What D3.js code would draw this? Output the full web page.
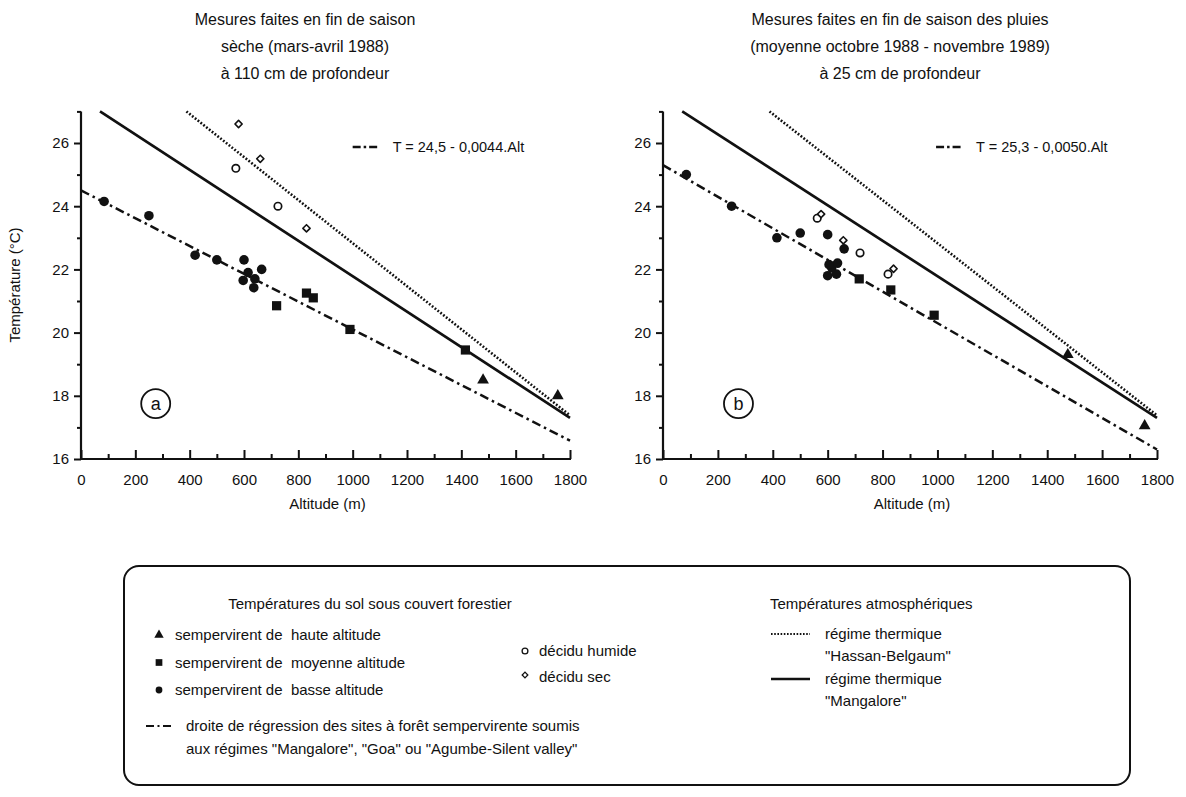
<!DOCTYPE html>
<html>
<head>
<meta charset="utf-8">
<script src="https://cdn.jsdelivr.net/npm/d3@7"></script>
<style>
  body { margin: 0; background: #fff; }
  svg text { font-family: "Liberation Sans", Arial, sans-serif; fill: #111; white-space: pre; }
</style>
</head>
<body>
<div id="canvas"></div>
<script>
// Canvas
var w = 1186, h = 797;

// ---- data ----
// (altitude m, temperature °C)
var highA = [[1480, 18.5], [1755, 18.0]];
var midA = [[720, 20.85], [830, 21.25], [855, 21.1], [990, 20.1], [1415, 19.45]];
var lowA = [[85, 24.15], [250, 23.7], [420, 22.45], [500, 22.3], [600, 22.3], [615, 21.9],
            [665, 22.0], [597, 21.65], [640, 21.7], [636, 21.42]];
var humidA = [[570, 25.2], [725, 24.0]];
var dryA = [[580, 26.6], [660, 25.5], [830, 23.3]];

var highB = [[1475, 19.3], [1755, 17.05]];
var midB = [[715, 21.7], [830, 21.35], [988, 20.55]];
var lowB = [[85, 25.0], [250, 24.0], [415, 23.0], [500, 23.15], [600, 23.1], [660, 22.65],
            [600, 21.8], [632, 21.85], [615, 22.05], [636, 22.2], [605, 22.15]];
var humidB = [[562, 23.62], [718, 22.52], [820, 21.85]];
var dryB = [[576, 23.75], [657, 22.92], [840, 22.02]];

// line end points
var regressA = [[0, 24.5], [1800, 16.58]];
var regressB = [[0, 25.3], [1800, 16.3]];
var mangalore = [[70, 27.0], [1800, 17.3]];
var hassan = [[388, 27.0], [1800, 17.38]];

var xTicks = [0, 200, 400, 600, 800, 1000, 1200, 1400, 1600, 1800];
var xMinor = [100, 300, 500, 700, 900, 1100, 1300, 1500, 1700];
var yTicks = [16, 18, 20, 22, 24, 26];
var yMinor = [17, 19, 21, 23, 25, 27];

var titleA = ["Mesures faites en fin de saison", "sèche (mars-avril 1988)", "à 110 cm de profondeur"];
var titleB = ["Mesures faites en fin de saison des pluies", "(moyenne octobre 1988 - novembre 1989)", "à 25 cm de profondeur"];
var eqA = "T = 24,5 - 0,0044.Alt";
var eqB = "T = 25,3 - 0,0050.Alt";

var svg = d3.select("#canvas").append("svg")
    .attr("width", w)
    .attr("height", h)
    .style("background-color", "white");

var dashDot = "9,4,2.5,4";
var dotted = "1.8,1.8";

function symbolPath(type, size) {
    return d3.symbol().type(type).size(size)();
}

function drawPanel(p) {
    var x = d3.scaleLinear().domain([0, 1800]).range([p.left, p.right]);
    var y = d3.scaleLinear().domain([16, 27]).range([459, 111.4]);
    var g = svg.append("g");

    // y axis
    g.append("g")
        .attr("transform", `translate(${p.left},0)`)
        .call(d3.axisLeft(y).tickValues(yTicks).tickSize(7).tickPadding(5).tickFormat(d3.format("d")))
        .call(a => a.select(".domain").remove());
    g.append("g")
        .attr("transform", `translate(${p.left},0)`)
        .call(d3.axisLeft(y).tickValues(yMinor).tickSize(4).tickFormat(""))
        .call(a => a.select(".domain").remove());
    g.append("line")
        .attr("x1", p.left).attr("x2", p.left)
        .attr("y1", y(16)).attr("y2", y(27))
        .attr("stroke", "#111").attr("stroke-width", 2.2);

    // x axis, ticks point up into the plot
    g.append("g")
        .attr("transform", `translate(0,${y(16)})`)
        .call(d3.axisBottom(x).tickValues(xTicks).tickSize(-9).tickPadding(15).tickFormat(d3.format("d")))
        .call(a => a.select(".domain").remove());
    g.append("g")
        .attr("transform", `translate(0,${y(16)})`)
        .call(d3.axisBottom(x).tickValues(xMinor).tickSize(-5).tickFormat(""))
        .call(a => a.select(".domain").remove());
    g.append("line")
        .attr("x1", p.left - 1).attr("x2", x(1800) + 1)
        .attr("y1", y(16)).attr("y2", y(16))
        .attr("stroke", "#111").attr("stroke-width", 2.2);

    g.selectAll(".tick line").attr("stroke", "#111").attr("stroke-width", 2);
    g.selectAll(".tick text").style("font-size", "15px").attr("fill", "#111");

    svg.append("text")
        .attr("x", (p.left + p.right) / 2 + 2)
        .attr("y", 509)
        .attr("text-anchor", "middle")
        .style("font-size", "15px")
        .text("Altitude (m)");

    // title
    p.title.forEach((t, i) => {
        svg.append("text")
            .attr("x", p.titleX)
            .attr("y", 25 + i * 27)
            .attr("text-anchor", "middle")
            .style("font-size", "16px")
            .text(t);
    });

    var line = d3.line().x(d => x(d[0])).y(d => y(d[1]));
    g.append("path").datum(p.regress).attr("d", line)
        .attr("fill", "none").attr("stroke", "#111").attr("stroke-width", 2.5)
        .attr("stroke-dasharray", dashDot);
    g.append("path").datum(mangalore).attr("d", line)
        .attr("fill", "none").attr("stroke", "#111").attr("stroke-width", 2.7);
    g.append("path").datum(hassan).attr("d", line)
        .attr("fill", "none").attr("stroke", "#111").attr("stroke-width", 2.6)
        .attr("stroke-dasharray", dotted);

    // equation key
    var ex = x(p.eqAlt);
    g.append("line")
        .attr("x1", ex).attr("x2", ex + 26)
        .attr("y1", 147).attr("y2", 147)
        .attr("stroke", "#111").attr("stroke-width", 2.4)
        .attr("stroke-dasharray", "8,3,2.5,3");
    g.append("text")
        .attr("x", ex + 40).attr("y", 152)
        .style("font-size", "14.5px")
        .text(p.eq);

    // points
    g.selectAll(".low").data(p.low).join("circle")
        .attr("cx", d => x(d[0])).attr("cy", d => y(d[1])).attr("r", 4.8)
        .attr("fill", "#111");
    g.selectAll(".mid").data(p.mid).join("path")
        .attr("transform", d => `translate(${x(d[0])},${y(d[1])})`)
        .attr("d", symbolPath(d3.symbolSquare, 85))
        .attr("fill", "#111");
    g.selectAll(".high").data(p.high).join("path")
        .attr("transform", d => `translate(${x(d[0])},${y(d[1])})`)
        .attr("d", symbolPath(d3.symbolTriangle, 60))
        .attr("fill", "#111");
    g.selectAll(".humid").data(p.humid).join("circle")
        .attr("cx", d => x(d[0])).attr("cy", d => y(d[1])).attr("r", 3.7)
        .attr("fill", "white").attr("stroke", "#111").attr("stroke-width", 1.7);
    g.selectAll(".dry").data(p.dry).join("path")
        .attr("transform", d => `translate(${x(d[0])},${y(d[1])}) rotate(45)`)
        .attr("d", symbolPath(d3.symbolSquare, 26))
        .attr("fill", "white").attr("stroke", "#111").attr("stroke-width", 1.6)
        .attr("stroke-linejoin", "round");

    // panel letter
    g.append("circle")
        .attr("cx", x(275)).attr("cy", y(17.75))
        .attr("r", 14.5)
        .attr("fill", "none").attr("stroke", "#111").attr("stroke-width", 1.8);
    g.append("text")
        .attr("x", x(275)).attr("y", y(17.75) + 6)
        .attr("text-anchor", "middle")
        .style("font-size", "18px")
        .text(p.letter);
}

drawPanel({left: 81, right: 570, titleX: 305, title: titleA, regress: regressA, eq: eqA, eqAlt: 1000,
           low: lowA, mid: midA, high: highA, humid: humidA, dry: dryA, letter: "a"});
drawPanel({left: 663, right: 1157, titleX: 900, title: titleB, regress: regressB, eq: eqB, eqAlt: 995,
           low: lowB, mid: midB, high: highB, humid: humidB, dry: dryB, letter: "b"});

// y label (left panel only)
svg.append("text")
    .attr("transform", "translate(20,285) rotate(-90)")
    .attr("text-anchor", "middle")
    .style("font-size", "15px")
    .text("Température (°C)");

// ---- legend ----
var legend = svg.append("g");
legend.append("rect")
    .attr("x", 124).attr("y", 566)
    .attr("width", 1006).attr("height", 219)
    .attr("rx", 15)
    .attr("fill", "none").attr("stroke", "#111").attr("stroke-width", 2);

var legendSoil = ["sempervirent de  haute altitude", "sempervirent de  moyenne altitude", "sempervirent de  basse altitude"];
var legendDecid = ["décidu humide", "décidu sec"];
var legendRegress = ["droite de régression des sites à forêt sempervirente soumis",
                     "aux régimes \"Mangalore\", \"Goa\" ou \"Agumbe-Silent valley\""];
var legendAtm = [["régime thermique", "\"Hassan-Belgaum\""], ["régime thermique", "\"Mangalore\""]];

legend.append("text").attr("x", 370).attr("y", 609).attr("text-anchor", "middle")
    .style("font-size", "15px").text("Températures du sol sous couvert forestier");
legend.append("text").attr("x", 770).attr("y", 609)
    .style("font-size", "15px").text("Températures atmosphériques");

var soilShapes = [d3.symbolTriangle, d3.symbolSquare, d3.symbolCircle];
var soilSizes = [38, 45, 36];
legendSoil.forEach((t, i) => {
    var yy = 635 + i * 27.5;
    legend.append("path")
        .attr("transform", `translate(159,${yy})`)
        .attr("d", symbolPath(soilShapes[i], soilSizes[i]))
        .attr("fill", "#111");
    legend.append("text").attr("x", 175).attr("y", yy + 5).style("font-size", "15px").text(t);
});

legendDecid.forEach((t, i) => {
    var yy = 651 + i * 26;
    if (i === 0) {
        legend.append("circle").attr("cx", 525).attr("cy", yy).attr("r", 2.9)
            .attr("fill", "white").attr("stroke", "#111").attr("stroke-width", 1.3);
    } else {
        legend.append("path").attr("transform", `translate(525,${yy - 2}) rotate(45)`)
            .attr("d", symbolPath(d3.symbolSquare, 16))
            .attr("fill", "white").attr("stroke", "#111").attr("stroke-width", 1.3);
    }
    legend.append("text").attr("x", 539).attr("y", yy + 5).style("font-size", "15px").text(t);
});

legend.append("line")
    .attr("x1", 146).attr("x2", 171).attr("y1", 726).attr("y2", 726)
    .attr("stroke", "#111").attr("stroke-width", 2.2).attr("stroke-dasharray", "8,3.5,2,3.5");
legendRegress.forEach((t, i) => {
    legend.append("text").attr("x", 186).attr("y", 731 + i * 23).style("font-size", "15px").text(t);
});

legendAtm.forEach((pair, i) => {
    var yy = 634 + i * 45;
    legend.append("line")
        .attr("x1", 771).attr("x2", 810).attr("y1", yy).attr("y2", yy)
        .attr("stroke", "#111").attr("stroke-width", i === 0 ? 2.2 : 2.4)
        .attr("stroke-dasharray", i === 0 ? "1.6,1.6" : null);
    pair.forEach((t, j) => {
        legend.append("text").attr("x", 825).attr("y", yy + 5 + j * 22).style("font-size", "15px").text(t);
    });
});
</script>
</body>
</html>
